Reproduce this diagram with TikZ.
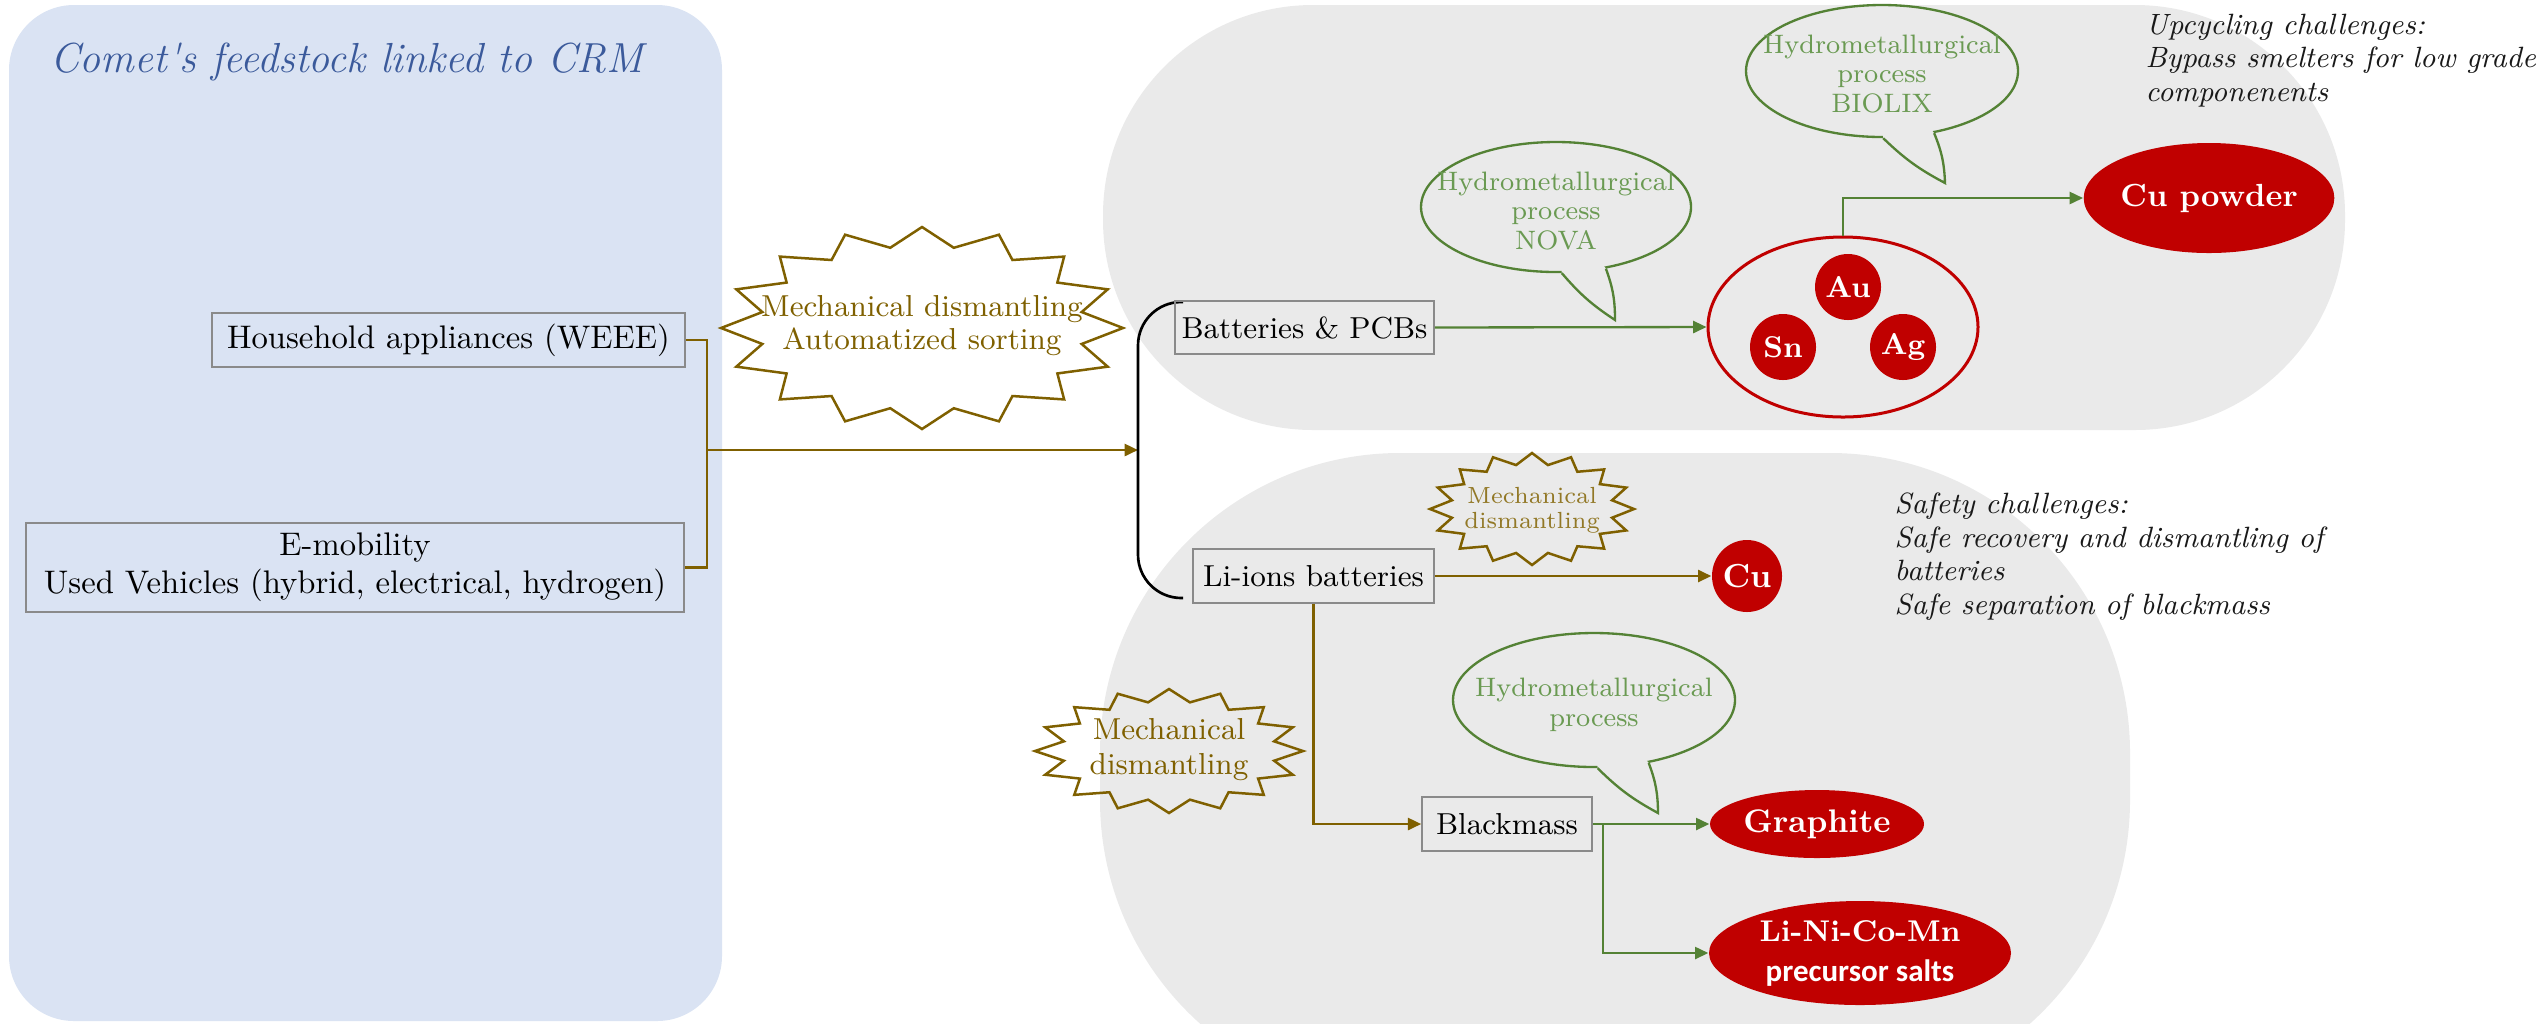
\documentclass[tikz,border=0pt]{standalone}
\usepackage{fontspec}
\newfontfamily\carlito{Carlito}
\usetikzlibrary{arrows.meta,shapes.geometric,calc}
\definecolor{bluepanel}{HTML}{DAE3F3}
\definecolor{titleblue}{HTML}{3B5A9B}
\definecolor{graypanel}{HTML}{EAEAEA}
\definecolor{cbrown}{HTML}{7F6000}
\definecolor{cgreen}{HTML}{548235}
\definecolor{greentext}{HTML}{6A9A52}
\definecolor{cred}{HTML}{C00000}
\definecolor{boxgray}{HTML}{8A8A8A}
\def\pu{0.3pt}
% starburst outline: cx, cy, a, b, inner ratio
\newcommand{\burstshape}[5]{%
  \draw[burstline] ({#1+#3},{#2}) \foreach \k in {1,...,31}{ -- ({#1+(#3)*(1-(1-#5)*mod(\k,2))*cos(\k*11.25)},{#2+(#4)*(1-(1-#5)*mod(\k,2))*sin(\k*11.25)}) } -- cycle;}
\begin{document}
\begin{tikzpicture}[x=0.3pt,y=-0.3pt,
  box/.style={draw=boxgray, line width=0.45pt, inner sep=0pt, align=center, text=black},
  redfill/.style={ellipse, fill=cred, inner sep=0pt, text=white, align=center},
  metal/.style={circle, fill=cred, inner sep=0pt, minimum size=66*\pu, text=white, font=\fontsize{9}{10}\selectfont\bfseries},
  bubble/.style={ellipse, draw=cgreen, line width=0.7pt, fill=graypanel, inner sep=0pt},
  bubbletext/.style={text=greentext, align=center, inner sep=0pt, font=\fontsize{8}{8.9}\selectfont},
  brownline/.style={draw=cbrown, line width=0.75pt},
  brownarrow/.style={draw=cbrown, line width=0.75pt, -{Triangle[length=4pt,width=3.6pt]}},
  greenarrow/.style={draw=cgreen, line width=0.7pt, -{Triangle[length=4pt,width=3.6pt]}},
  burstline/.style={draw=cbrown, line width=0.75pt, line join=miter},
  bursttext/.style={text=cbrown, align=center, inner sep=0pt},
  note/.style={anchor=north west, inner sep=0pt, align=left, text=black!90, font=\fontsize{8.8}{10.1}\selectfont\itshape}
]
\useasboundingbox (0,0) rectangle (2547,1023);
\clip (0,0) rectangle (2547,1023);
% panels
\fill[bluepanel, rounded corners=19.5pt] (9,5) rectangle (722,1021);
\fill[graypanel, rounded corners=63pt] (1103,5) rectangle (2345,430);
\fill[graypanel, rounded corners=90pt] (1100,453) rectangle (2130,1100);
\node[anchor=base, inner sep=0pt, text=titleblue, font=\fontsize{12.6}{15}\selectfont\itshape] (title) at (347,72) {Comet\textquotesingle s feedstock linked to CRM};

% sources
\node[box, minimum width=473*\pu, minimum height=54*\pu, font=\fontsize{9.8}{11.4}\selectfont] (hh) at (448.5,340) {Household appliances (WEEE)};
\node[box, minimum width=658*\pu, minimum height=89*\pu, font=\fontsize{9.8}{11.4}\selectfont] (em) at (355,567.5) {E-mobility\\Used Vehicles (hybrid, electrical, hydrogen)};
\coordinate (jn) at (707,450);
\coordinate (brmid) at (1138,450);
\draw[brownline] (hh.east) -| (jn) |- (em.east);
\draw[brownarrow] (jn) -- (brmid);

% big starburst
\burstshape{922}{328}{201}{101}{0.81}
\node[bursttext, font=\fontsize{9.1}{9.9}\selectfont] (burst1) at (922,326) {Mechanical dismantling\\Automatized sorting};

% bracket
\coordinate (btop) at (1183,302);
\coordinate (bbot) at (1183,598);
\draw[black, line width=0.8pt, rounded corners=13pt] (btop) -- (1138,302) -- (1138,598) -- (bbot);

% top branch
\node[box, minimum width=259*\pu, minimum height=53*\pu, font=\fontsize{9.1}{11}\selectfont] (bat) at (1304.5,327.5) {Batteries \& PCBs};
\node[ellipse, draw=cred, line width=0.9pt, minimum width=270*\pu, minimum height=180*\pu, inner sep=0pt] (metals) at (1843,327) {};
\node[metal] (au) at (1848,287) {Au};
\node[metal] (sn) at (1783,347) {Sn};
\node[metal] (ag) at (1903,347) {Ag};
\node[redfill, minimum width=232*\pu, minimum height=110*\pu, font=\fontsize{9.6}{11}\selectfont\bfseries] (cup) at (2209,198) {Cu powder};
\draw[greenarrow] (bat.east) -- (metals.west);
\draw[greenarrow] (metals.north) |- (cup.west);

% NOVA bubble
\node[bubble, minimum width=270*\pu, minimum height=130*\pu] (nova) at (1556,207) {};
\coordinate (novatip) at (1615,320);
\fill[graypanel] ($(nova.-85)!0.12!(nova.center)$) -- (nova.-85) -- (novatip) -- (nova.-51) -- ($(nova.-51)!0.12!(nova.center)$) -- cycle;
\draw[cgreen, line width=0.7pt] (nova.-85) to[bend right=8] (novatip) to[bend right=10] (nova.-51);
\node[bubbletext] (novatxt) at (1556,211) {Hydrometallurgical\\process\\NOVA};

% BIOLIX bubble
\node[bubble, minimum width=272*\pu, minimum height=132*\pu] (biolix) at (1882,71) {};
\coordinate (biolixtip) at (1945,183);
\fill[graypanel] ($(biolix.-89)!0.12!(biolix.center)$) -- (biolix.-89) -- (biolixtip) -- (biolix.-50) -- ($(biolix.-50)!0.12!(biolix.center)$) -- cycle;
\draw[cgreen, line width=0.7pt] (biolix.-89) to[bend right=8] (biolixtip) to[bend right=10] (biolix.-50);
\node[bubbletext] (biolixtxt) at (1882,74) {Hydrometallurgical\\process\\BIOLIX};

\node[note] (upc) at (2145,13) {Upcycling challenges:\\Bypass smelters for low grade\\componenents};

% bottom branch
\node[box, minimum width=241*\pu, minimum height=54*\pu, font=\fontsize{9.1}{11}\selectfont] (li) at (1313.5,576) {Li-ions batteries};
\node[redfill, minimum width=70*\pu, minimum height=72*\pu, font=\fontsize{10}{11}\selectfont\bfseries] (cu) at (1747,576) {Cu};
\draw[brownarrow] (li.east) -- (cu.west);
\burstshape{1532}{509}{102}{56}{0.8}
\node[bursttext, text=cbrown!85, font=\fontsize{7}{7.6}\selectfont] (burst2) at (1532,510) {Mechanical\\dismantling};

\burstshape{1169}{751}{134}{62}{0.8}
\node[bursttext, font=\fontsize{9.1}{10.5}\selectfont] (burst3) at (1169,750) {Mechanical\\dismantling};

\node[box, minimum width=170*\pu, minimum height=54*\pu, font=\fontsize{9.1}{11}\selectfont] (bm) at (1507,824) {Blackmass};
\draw[brownarrow] (li.south) |- (bm.west);

\node[redfill, minimum width=214*\pu, minimum height=68*\pu, font=\fontsize{9.8}{11}\selectfont\bfseries] (gra) at (1817,824) {Graphite};
\node[redfill, minimum width=302*\pu, minimum height=104*\pu] (lnc) at (1860,953) {{\fontsize{9}{11.4}\selectfont\bfseries Li-Ni-Co-Mn}\\{\fontsize{9.3}{11.4}\selectfont\carlito\bfseries precursor salts}};
\coordinate (bmj) at (1603,824);
\draw[greenarrow] (bm.east) -- (gra.west);
\draw[greenarrow] (bmj) |- (lnc.west);

% bottom bubble
\node[bubble, minimum width=282*\pu, minimum height=134*\pu] (hyd) at (1594,700) {};
\coordinate (hydtip) at (1658,813);
\fill[graypanel] ($(hyd.-87)!0.12!(hyd.center)$) -- (hyd.-87) -- (hydtip) -- (hyd.-49) -- ($(hyd.-49)!0.12!(hyd.center)$) -- cycle;
\draw[cgreen, line width=0.7pt] (hyd.-87) to[bend right=8] (hydtip) to[bend right=10] (hyd.-49);
\node[bubbletext] (hydtxt) at (1594,705) {Hydrometallurgical\\process};

\node[note] (saf) at (1894,492) {Safety challenges:\\Safe recovery and dismantling of\\batteries\\Safe separation of blackmass};
\end{tikzpicture}
\end{document}
